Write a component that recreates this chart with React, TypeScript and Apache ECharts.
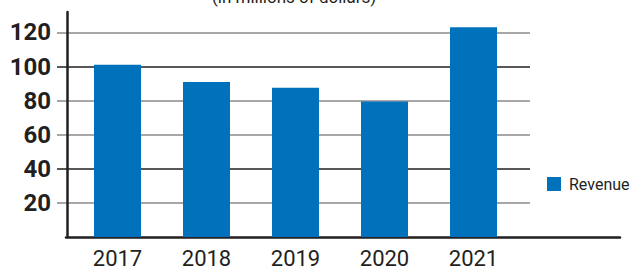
import React, { useEffect, useRef } from "react";
import * as echarts from "echarts";

const categories = ["2017", "2018", "2019", "2020", "2021"];
const revenue = [101, 91, 87.5, 79.5, 123];
const seriesName = "Revenue";
const titleText = "(in millions of dollars)";

const FONT = "Roboto, 'Liberation Sans', sans-serif";
const INK = "#231f20";
const GRAY = "#8a8a8a";

export default function App() {
  const ref = useRef<HTMLDivElement>(null);
  useEffect(() => {
    if (!ref.current) return;
    const chart = echarts.init(ref.current, null, { renderer: "svg" });
    const yMax = 132;
    chart.setOption({
      animation: false,
      backgroundColor: "#ffffff",
      title: {
        text: titleText,
        left: 212,
        top: -12,
        padding: 0,
        textStyle: { fontFamily: FONT, fontSize: 17, fontWeight: "normal", color: INK },
      },
      legend: {
        data: [seriesName],
        left: 547,
        top: 176,
        padding: 0,
        itemWidth: 14,
        itemHeight: 14,
        icon: "rect",
        textStyle: { fontFamily: FONT, fontSize: 16, color: INK, padding: [0, 0, 0, 3] },
      },
      grid: [
        { left: 57, right: 105, top: 12, bottom: 34 },
        { left: 73, width: 445, top: 12, bottom: 34 },
        { left: 66, right: 15, top: 12, bottom: 34 },
      ],
      xAxis: [
        { gridIndex: 0, type: "category", data: categories, show: false },
        {
          gridIndex: 1,
          type: "category",
          data: categories,
          axisLine: { show: false },
          axisTick: { show: false },
          axisLabel: { fontFamily: FONT, fontSize: 22, color: INK, margin: 10 },
        },
        {
          gridIndex: 2,
          type: "category",
          data: categories,
          axisLine: { show: true, lineStyle: { color: INK, width: 2.5 } },
          axisTick: { show: false },
          axisLabel: { show: false },
        },
      ],
      yAxis: [
        {
          gridIndex: 0,
          type: "value",
          min: 0,
          max: yMax,
          interval: 20,
          offset: -10,
          axisLine: { show: true, lineStyle: { color: INK, width: 2.5 } },
          axisTick: { show: false },
          axisLabel: {
            fontFamily: FONT,
            fontSize: 24,
            fontWeight: "bold",
            color: INK,
            margin: 16,
            formatter: (v: number) => (v > 0 && v % 20 === 0 ? String(v) : ""),
          },
          splitLine: {
            show: true,
            showMinLine: false,
            showMaxLine: false,
            lineStyle: { color: [GRAY, INK, GRAY, GRAY, INK, GRAY], width: 1.6 },
          },
        },
        { gridIndex: 1, type: "value", min: 0, max: yMax, show: false },
        { gridIndex: 2, type: "value", min: 0, max: yMax, show: false },
      ],
      series: [
        {
          name: seriesName,
          type: "bar",
          xAxisIndex: 1,
          yAxisIndex: 1,
          data: revenue,
          barWidth: 47,
          itemStyle: { color: "#0071bb" },
        },
      ],
    });
    return () => chart.dispose();
  }, []);
  return (
    <div
      ref={ref}
      style={{ position: "fixed", left: 0, top: 0, width: 635, height: 271 }}
    />
  );
}
